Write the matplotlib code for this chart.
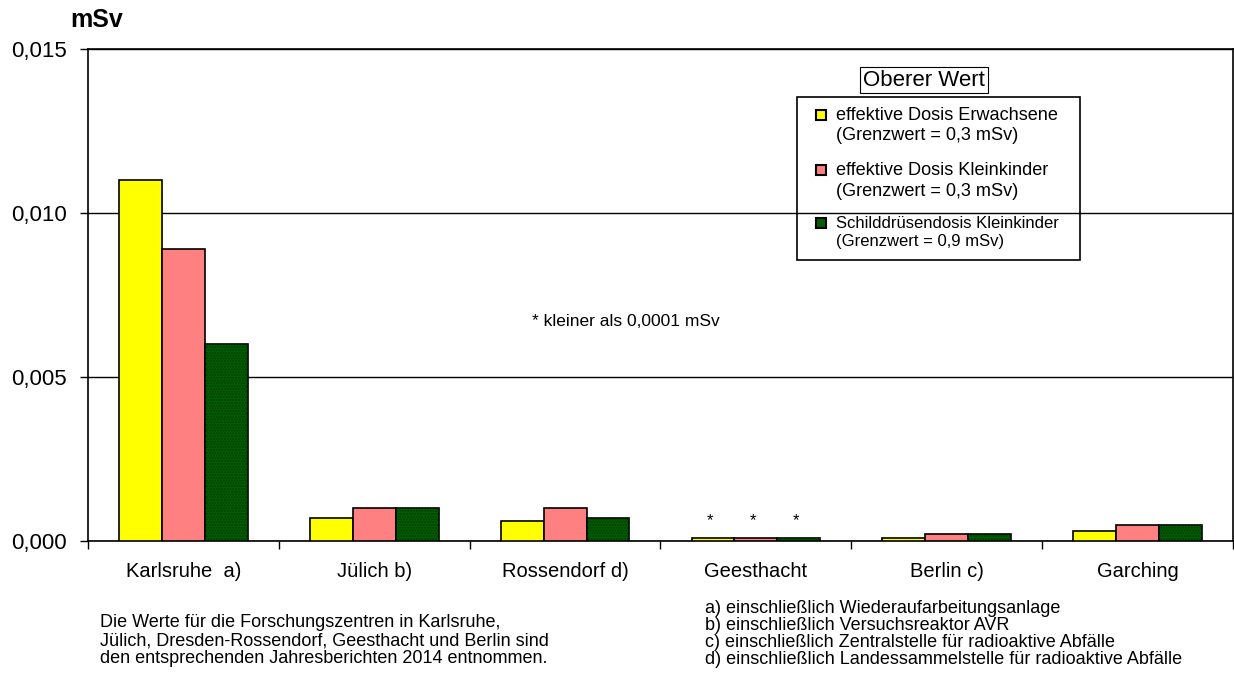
import matplotlib.pyplot as plt
from matplotlib.patches import Rectangle

plt.rcParams['font.family'] = ['Liberation Sans', 'DejaVu Sans']

# Daten (mSv)
standorte = ["Karlsruhe  a)", "Jülich b)", "Rossendorf d)", "Geesthacht", "Berlin c)", "Garching"]
erwachsene = [0.011, 0.0007, 0.0006, 0.0001, 0.0001, 0.0003]
kleinkinder = [0.0089, 0.001, 0.001, 0.0001, 0.0002, 0.0005]
schilddruese = [0.006, 0.001, 0.0007, 0.0001, 0.0002, 0.0005]
kleiner_als = [False, False, False, True, False, False]  # * kleiner als 0,0001 mSv

serien = [
    ("effektive Dosis Erwachsene", "(Grenzwert = 0,3 mSv)", erwachsene, "#FFFF00"),
    ("effektive Dosis Kleinkinder", "(Grenzwert = 0,3 mSv)", kleinkinder, "#FF8080"),
    ("Schilddrüsendosis Kleinkinder", "(Grenzwert = 0,9 mSv)", schilddruese, "#006000"),
]
yticks = [0.0, 0.005, 0.010, 0.015]
ytick_labels = ["0,000", "0,005", "0,010", "0,015"]

fuss_links = ["Die Werte für die Forschungszentren in Karlsruhe,",
              "Jülich, Dresden-Rossendorf, Geesthacht und Berlin sind",
              "den entsprechenden Jahresberichten 2014 entnommen."]
fuss_rechts = ["a) einschließlich Wiederaufarbeitungsanlage",
               "b) einschließlich Versuchsreaktor AVR",
               "c) einschließlich Zentralstelle für radioaktive Abfälle",
               "d) einschließlich Landessammelstelle für radioaktive Abfälle"]

W, H = 1234, 676
fig = plt.figure(figsize=(W / 100, H / 100), dpi=100)
ax = fig.add_axes([88 / W, (H - 541) / H, (1233 - 88) / W, (541 - 49) / H])


def px(x, y):
    return x / W, 1 - y / H


breite = 0.225
x = list(range(len(standorte)))
for i, (lab1, lab2, werte, farbe) in enumerate(serien):
    pos = [xi + (i - 1) * breite for xi in x]
    ax.bar(pos, werte, breite, color=farbe, edgecolor="black", linewidth=1.2, zorder=3)
    if i == 2:
        # Punktmuster
        ax.bar(pos, werte, breite, fill=False, hatch="......", edgecolor="#003800",
               linewidth=0, zorder=3.5)
    for xi, w, k in zip(pos, werte, kleiner_als):
        if k:
            ax.annotate("*", (xi - 0.015, w), xytext=(0, 7), textcoords="offset points",
                        ha="center", va="bottom", fontsize=12)

ax.set_xlim(-0.5, len(standorte) - 0.5)
ax.set_ylim(0, 0.015)
ax.set_yticks(yticks)
ax.set_yticklabels(ytick_labels, fontsize=16)
ax.set_xticks(x)
ax.set_xticklabels(standorte, fontsize=14.5)
ax.set_xticks([xi - 0.5 for xi in x] + [len(x) - 0.5], minor=True)
ax.tick_params(axis="x", which="major", length=0, pad=15)
ax.tick_params(axis="x", which="minor", length=6, width=1)
ax.tick_params(axis="y", length=6, width=1, pad=9)
ax.yaxis.grid(True, color="black", linewidth=1.0)
ax.set_axisbelow(True)
for s in ax.spines.values():
    s.set_linewidth(1.2)

fig.text(*px(97, 20), "mSv", fontsize=18, fontweight="bold", ha="center", va="center")
fig.text(*px(626, 322), "* kleiner als 0,0001 mSv", fontsize=12.5, ha="center", va="center")

# Legende
fig.patches.append(Rectangle(px(797, 260), (1080 - 797) / W, (260 - 97) / H,
                             transform=fig.transFigure, fill=False, edgecolor="black",
                             linewidth=1.2))
fig.text(*px(924, 80), "Oberer Wert", fontsize=16, ha="center", va="center",
         bbox=dict(boxstyle="square,pad=0.12", fc="white", ec="black", lw=0.8))
zeilen_y = [(115, 136), (170, 191), (223, 242)]
groessen = [13.1, 13.1, 12]
for (lab1, lab2, werte, farbe), (y1, y2), fs in zip(serien, zeilen_y, groessen):
    fig.patches.append(Rectangle(px(816, y1 + 5), 10 / W, 10 / H, transform=fig.transFigure,
                                 facecolor=farbe, edgecolor="black", linewidth=1.5))
    fig.text(*px(836, y1), lab1, fontsize=fs, va="center")
    fig.text(*px(836, y2), lab2, fontsize=fs, va="center")

for j, zeile in enumerate(fuss_links):
    fig.text(*px(100, 627 + j * 18), zeile, fontsize=13, va="baseline")
for j, zeile in enumerate(fuss_rechts):
    fig.text(*px(705, 613 + j * 17), zeile, fontsize=13, va="baseline")

fig.savefig("out.png", dpi=100)
